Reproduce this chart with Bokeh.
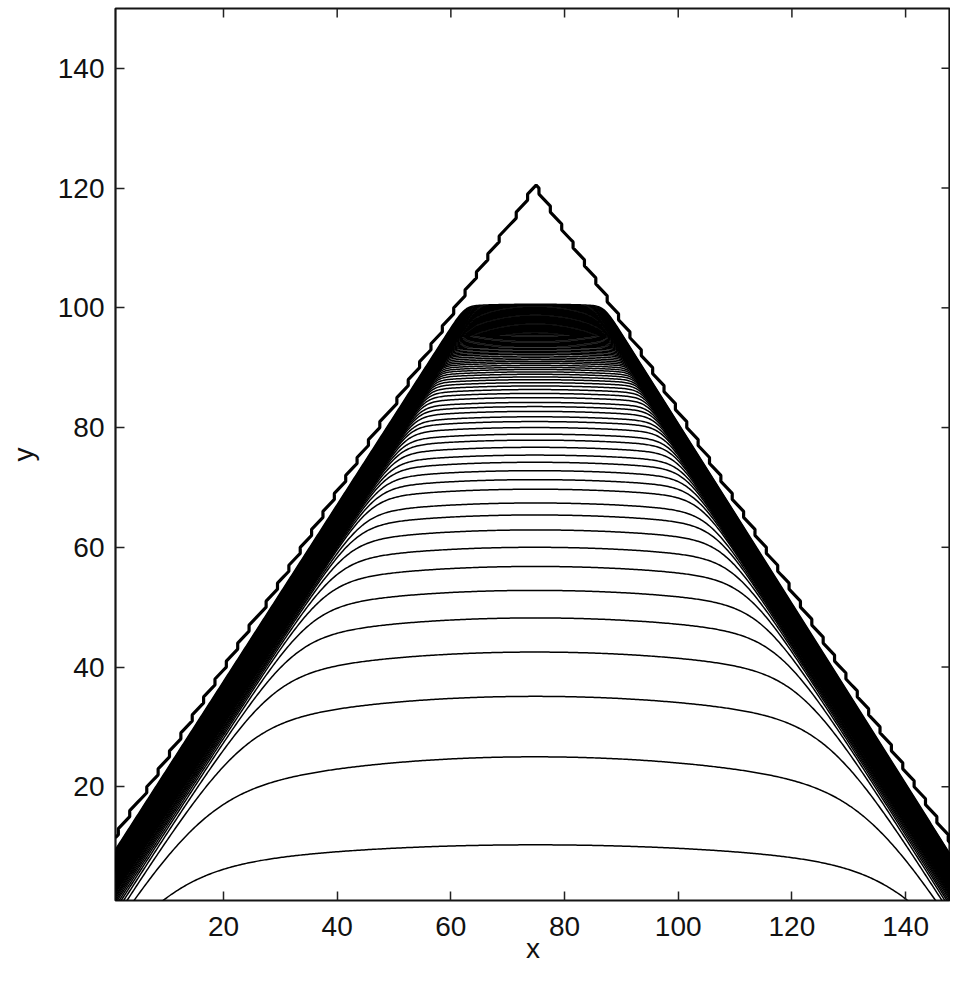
import numpy as np
from bokeh.plotting import figure
from bokeh.models import FixedTicker, Range1d, ColumnDataSource
from bokeh.embed import file_html
from bokeh.resources import INLINE

# ---- values ----
x_limits = [1, 147.9]
y_limits = [1, 150]
tick_values = [20, 40, 60, 80, 100, 120, 140]

# outer ridge (jagged triangle): apex and side slopes
apex_x = 74.8
apex_y = 120.6
slope_left = 1.477
slope_right = 1.504

# height of each contour line where it crosses the centre column (x ~ 75)
centre_heights = [10.3, 25.0, 35.1, 42.5, 48.2, 52.8, 56.8, 60.0, 62.9, 65.4,
                  67.4, 69.7, 71.3, 72.8, 74.2, 75.4, 76.7, 77.9, 78.9, 80.0,
                  81.0, 81.8, 82.7, 83.5, 84.2, 85.0]
# densely packed lines below the flat top (estimated)
dense_heights = [85.7, 86.35, 86.95, 87.5, 88.0, 88.45, 88.9, 89.3, 89.7, 90.05,
                 90.4, 90.75, 91.05, 91.35, 91.65, 91.95, 92.25, 92.5, 92.75, 93.0,
                 93.25, 93.5, 93.7, 93.9, 94.1, 94.3, 94.5, 94.7, 94.9, 95.1,
                 95.3, 95.5, 95.65, 95.8, 95.95, 96.1, 96.25, 96.4, 96.55, 96.7,
                 96.85, 97.0, 97.15, 97.3, 97.45, 97.6, 97.75, 97.9, 98.05, 98.2,
                 98.35, 98.5, 98.65, 98.8, 98.95, 99.1, 99.25, 99.4, 99.55, 99.7,
                 99.85, 100.0, 100.15, 100.3, 100.45, 100.6]
plateau_y = 100.8
lowest_bow = 0.0009

# ---- shape model for each level line ----
wall_gap = 1.6
bow = 0.0016
xg = np.arange(1.0, 148.5, 0.25)


def left_wall(x):
    return apex_y - slope_left * (apex_x - x)


def right_wall(x):
    return apex_y - slope_right * (x - apex_x)


xs, ys = [], []
for i, h in enumerate(centre_heights + dense_heights):
    D = plateau_y - h
    gl = 0.77 * D ** 0.56
    gr = 0.65 * D ** 0.56
    rho = max(1.0, 0.1 * D)
    a = lowest_bow if i == 0 else bow
    top = h - a * (xg - apex_x) ** 2
    lw = left_wall(xg) - wall_gap - slope_left * gl
    rw = right_wall(xg) - wall_gap - slope_right * gr
    st = np.vstack([top, lw, rw])
    m = st.min(axis=0)
    y = m - rho * np.log(np.exp(-(st - m) / rho).sum(axis=0))
    keep = y > -5
    xs.append(xg[keep])
    ys.append(y[keep])

# jagged outer ridge: boundary of the grid cells under the triangle
cols = np.arange(1, 150)
T = np.where(cols <= apex_x, left_wall(cols), right_wall(cols))
t = np.floor(T).astype(int)
rx, ry = [], []
for i in range(len(cols)):
    c = cols[i]
    rx.append(c)
    ry.append(t[i] + 0.5)
    if i + 1 < len(cols):
        a0, b0 = t[i], t[i + 1]
        if b0 > a0:
            for yy in range(a0 + 1, b0 + 1):
                rx.append(c + 0.5)
                ry.append(yy)
        elif b0 < a0:
            for yy in range(a0, b0, -1):
                rx.append(c + 0.5)
                ry.append(yy)

src = ColumnDataSource(dict(xs=xs, ys=ys))
ridge = ColumnDataSource(dict(x=rx, y=ry))

FONT = "Liberation Sans"

p = figure(width=950, height=975,
           x_range=Range1d(*x_limits), y_range=Range1d(*y_limits),
           output_backend="svg", toolbar_location=None,
           min_border_left=115, min_border_top=8, min_border_right=0,
           min_border_bottom=75, background_fill_color="white")
p.grid.visible = False
p.outline_line_color = "#151515"
p.outline_line_width = 2.2

p.multi_line(xs="xs", ys="ys", source=src, line_color="#000000", line_width=1.5)
p.line("x", "y", source=ridge, line_color="#000000", line_width=3.2)

# inward ticks on the top and right frame edges
n = len(tick_values)
p.ray(x=tick_values, y=[y_limits[1]] * n, length=9, length_units="screen",
      angle=-np.pi / 2, line_color="#222222", line_width=1.5)
p.ray(x=[x_limits[1]] * n, y=tick_values, length=9, length_units="screen",
      angle=np.pi, line_color="#222222", line_width=1.5)

ticker = FixedTicker(ticks=tick_values)
for ax in (p.xaxis[0], p.yaxis[0]):
    ax.ticker = ticker
    ax.axis_line_color = None
    ax.major_tick_in = 9
    ax.major_tick_out = 0
    ax.major_tick_line_color = "#222222"
    ax.major_tick_line_width = 1.5
    ax.minor_tick_line_color = None
    ax.major_label_text_font = FONT
    ax.major_label_text_font_size = "28px"
    ax.major_label_text_color = "#111111"
    ax.axis_label_text_font = FONT
    ax.axis_label_text_font_size = "28px"
    ax.axis_label_text_font_style = "normal"
    ax.axis_label_text_color = "#111111"

xa = p.xaxis[0]
ya = p.yaxis[0]
xa.axis_label = "x"
ya.axis_label = "y"
xa.major_label_standoff = 16
xa.axis_label_standoff = -6
ya.major_label_standoff = 11
ya.axis_label_standoff = 16

open("out.html", "w").write(file_html(p, INLINE))
